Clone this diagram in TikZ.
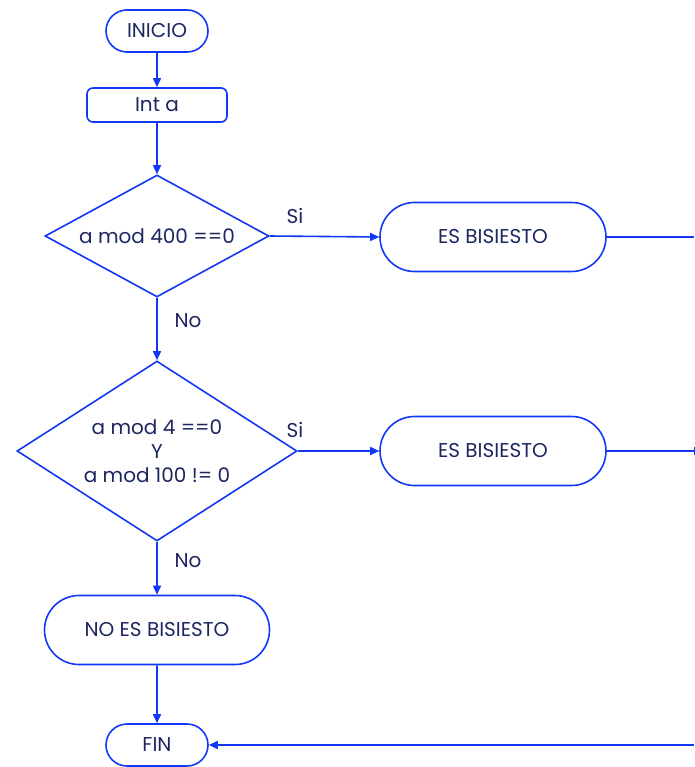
\documentclass[tikz,border=0pt]{standalone}
\usepackage{fontspec}
\setmainfont{Poppins}
\usetikzlibrary{shapes.geometric,shapes.misc,arrows.meta}
\definecolor{lineblue}{HTML}{1238F5}
\definecolor{txt}{HTML}{1C2660}
\tikzset{
  base/.style={draw=lineblue, line width=1.6pt, text=txt, font=\fontsize{20}{24}\selectfont, inner sep=0pt},
  pill/.style={base, rounded rectangle},
  rbox/.style={base, rectangle, rounded corners=6pt},
  decision/.style={base, diamond, align=center},
  conn/.style={draw=lineblue, line width=1.6pt, -{Triangle[length=9pt,width=8pt]}},
  plain/.style={draw=lineblue, line width=1.6pt},
  lbl/.style={text=txt, font=\fontsize{20}{24}\selectfont, inner sep=0pt}
}
\begin{document}
\begin{tikzpicture}[x=1pt,y=-1pt]
\useasboundingbox (0,0) rectangle (694,767);
\node[pill, minimum width=102pt, minimum height=42pt] (inicio) at (157,31) {INICIO};
\node[rbox, minimum width=140pt, minimum height=34pt] (int) at (157,105) {Int a};
\node[decision, minimum width=224pt, minimum height=122pt, aspect=1.836] (d1) at (157,236) {a mod 400 ==0};
\node[pill, minimum width=226pt, minimum height=69pt] (es1) at (493,237) {ES BISIESTO};
\node[decision, minimum width=280pt, minimum height=180pt, aspect=1.556] (d2) at (157,451) {a mod 4 ==0\\Y\\a mod 100 != 0};
\node[pill, minimum width=226pt, minimum height=69pt] (es2) at (493,451) {ES BISIESTO};
\node[pill, minimum width=225pt, minimum height=69pt] (nes) at (157,630) {NO ES BISIESTO};
\node[pill, minimum width=102pt, minimum height=42pt] (fin) at (157,745) {FIN};
\coordinate (r1) at (694,237);
\coordinate (r2) at (703,451);
\coordinate (r3) at (694,745);
\node[lbl] (si1) at (295,216) {Si};
\node[lbl] (no1) at (188,321) {No};
\node[lbl] (si2) at (295,430) {Si};
\node[lbl] (no2) at (188,561) {No};
\draw[conn] (inicio) -- (int);
\draw[conn] (int) -- (d1);
\draw[conn] (d1.east) -- (es1.west);
\draw[conn] (d1.south) -- (d2.north);
\draw[conn] (d2.east) -- (es2.west);
\draw[conn] (d2.south) -- (nes.north);
\draw[conn] (nes) -- (fin);
\draw[plain] (es1.east) -- (r1);
\draw[conn] (es2.east) -- (r2);
\draw[conn] (r3) -- (fin.east);
\end{tikzpicture}
\end{document}
